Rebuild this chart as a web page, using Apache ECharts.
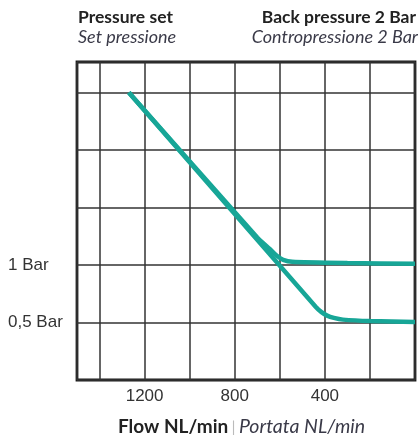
<!DOCTYPE html>
<html>
<head>
<meta charset="utf-8">
<script src="https://cdn.jsdelivr.net/npm/echarts@6/dist/echarts.min.js"></script>
<style>html,body{margin:0;padding:0;background:#fff}#c{width:418px;height:443px}</style>
</head>
<body>
<div id="c"></div>
<script>
// Flow NL/min (x, inverted) vs pressure Bar (y)
const xLabels = [1200, 800, 400];
const yLabels = { 0.5: '0,5 Bar', 1: '1 Bar' };
const curve05 = [[1270, 2.5], [440, 0.635], [415, 0.59], [390, 0.56], [360, 0.54], [320, 0.525], [200, 0.512], [0, 0.505]];
const curve1 = [[1270, 2.5], [700, 1.24], [645, 1.14], [610, 1.075], [585, 1.045], [545, 1.028], [300, 1.017], [0, 1.01]];

const chart = echarts.init(document.getElementById('c'));
const lineColor = '#17a697';
chart.setOption({
  animation: false,
  grid: { left: 77, width: 340.5, top: 62, bottom: 63, show: true, borderColor: '#1a1a1a', borderWidth: 2.8, backgroundColor: 'transparent' },
  xAxis: {
    type: 'value', inverse: true, min: 0, max: 1500, interval: 200,
    axisLine: { show: false }, axisTick: { show: false },
    splitLine: { show: true, lineStyle: { color: '#333', width: 1.5 } },
    axisLabel: {
      margin: 8, color: '#333', fontFamily: 'Liberation Sans', fontSize: 17,
      formatter: v => xLabels.includes(v) ? String(v) : ''
    }
  },
  yAxis: {
    type: 'value', min: 0, max: 2.765, interval: 0.5,
    axisLine: { show: false }, axisTick: { show: false },
    splitLine: { show: true, lineStyle: { color: '#333', width: 1.5 } },
    axisLabel: {
      margin: 69, align: 'left', color: '#333', fontFamily: 'Liberation Sans', fontSize: 17,
      formatter: v => yLabels[v] || ''
    }
  },
  series: [
    { type: 'line', data: curve1, showSymbol: false, smooth: 0.2, lineStyle: { color: lineColor, width: 4.5 }, z: 3 },
    { type: 'line', data: curve05, showSymbol: false, smooth: 0.2, lineStyle: { color: lineColor, width: 4.5 }, z: 3 }
  ],
  graphic: [
    { type: 'text', left: 78, top: 8, style: { text: 'Pressure set', font: 'bold 17.5px Lato', fill: '#222' } },
    { type: 'text', left: 78, top: 28, style: { text: 'Set pressione', font: 'italic 18px Lato', fill: '#3a3a48' } },
    { type: 'text', right: 2, top: 8, style: { text: 'Back pressure 2 Bar', font: 'bold 17.5px Lato', fill: '#222' } },
    { type: 'text', right: 0, top: 28, style: { text: 'Contropressione 2 Bar', font: 'italic 18px Lato', fill: '#3a3a48' } },
    { type: 'text', left: 118, top: 417, style: {
      text: '{b|Flow NL/min} {s||} {i|Portata NL/min}',
      rich: {
        b: { font: 'bold 19px Lato', fill: '#222' },
        s: { font: '16px Lato', fill: '#bbb' },
        i: { font: 'italic 19.5px Lato', fill: '#3a3a48' }
      }
    } }
  ]
});
</script>
</body>
</html>
